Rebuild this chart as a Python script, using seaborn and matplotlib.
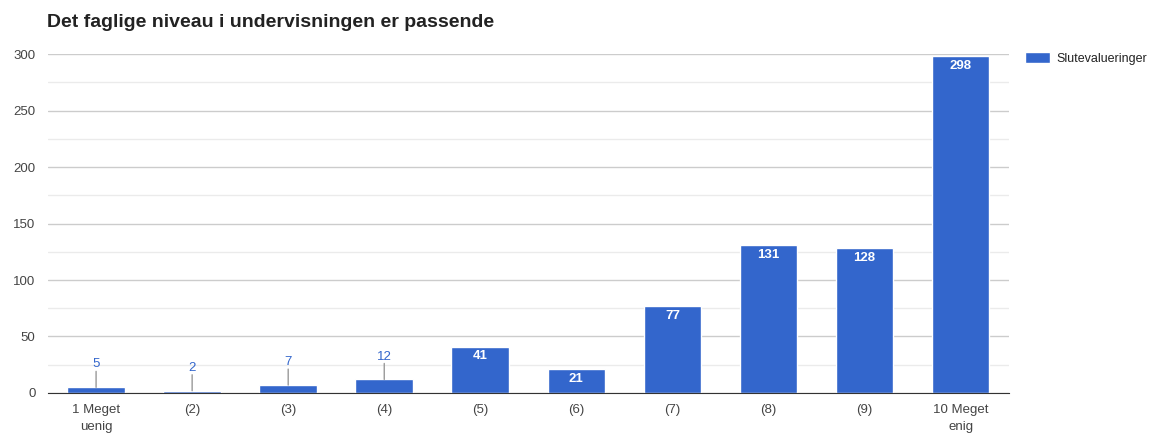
import numpy as np
import pandas as pd
import seaborn as sns
import matplotlib.pyplot as plt

categories = ["1 Meget\nuenig", "(2)", "(3)", "(4)", "(5)", "(6)", "(7)", "(8)", "(9)", "10 Meget\nenig"]
values = [5, 2, 7, 12, 41, 21, 77, 131, 128, 298]
series_name = "Slutevalueringer"
title = "Det faglige niveau i undervisningen er passende"

sns.set_style("white")
plt.rcParams['font.family'] = ['Liberation Sans', 'DejaVu Sans']

data = pd.DataFrame({"kategori": categories, "antal": values, "serie": series_name})

fig = plt.figure(figsize=(11.58, 4.34), dpi=100)
ax = fig.add_axes([0.0415, 0.0945, 0.8295, 0.781])

blue = "#3366CC"
sns.barplot(data=data, x="kategori", y="antal", hue="serie", palette=[blue],
            width=0.6, saturation=1, ax=ax, zorder=3)

ax.set_ylim(0, 300)
ax.set_yticks(np.arange(0, 301, 50))
ax.set_yticks(np.arange(25, 300, 50), minor=True)
ax.grid(axis="y", which="major", color="#cccccc", linewidth=1, zorder=0)
ax.grid(axis="y", which="minor", color="#ebebeb", linewidth=1, zorder=0)
ax.set_axisbelow(True)
for s in ["top", "right", "left"]:
    ax.spines[s].set_visible(False)
ax.spines["bottom"].set_color("#333333")
ax.spines["bottom"].set_zorder(4)
ax.tick_params(axis="both", which="both", length=0, labelsize=9.5, labelcolor="#444444")
ax.tick_params(axis="y", pad=9)
ax.tick_params(axis="x", pad=8)
for lbl in ax.get_xticklabels():
    lbl.set_linespacing(1.55)
ax.set_xlabel("")
ax.set_ylabel("")

# bar labels: inside for tall bars, above with a leader line for short ones
for i, v in enumerate(values):
    if v >= 20:
        ax.annotate(str(v), (i, v), xytext=(0, -7), textcoords="offset points",
                    ha="center", va="center", color="white", fontsize=9.5,
                    fontweight="bold", zorder=5)
    else:
        ax.annotate("", (i, v), xytext=(0, 11.5), textcoords="offset points",
                    arrowprops=dict(arrowstyle="-", color="#999999", lw=1,
                                    shrinkA=0, shrinkB=0), zorder=5)
        ax.annotate(str(v), (i, v), xytext=(0, 16.5), textcoords="offset points",
                    ha="center", va="center", color=blue, fontsize=9.5, zorder=5)

ax.legend(loc="upper left", bbox_to_anchor=(1.012, 1.02), frameon=False,
          fontsize=9, handlelength=2.0, handleheight=1.0, handletextpad=0.5,
          borderaxespad=0, labelcolor="#222222")

fig.text(0.0405, 0.948, title, fontsize=14, fontweight="bold", color="#222222",
         va="center", ha="left")

fig.savefig("out.png", dpi=100, facecolor="white")
